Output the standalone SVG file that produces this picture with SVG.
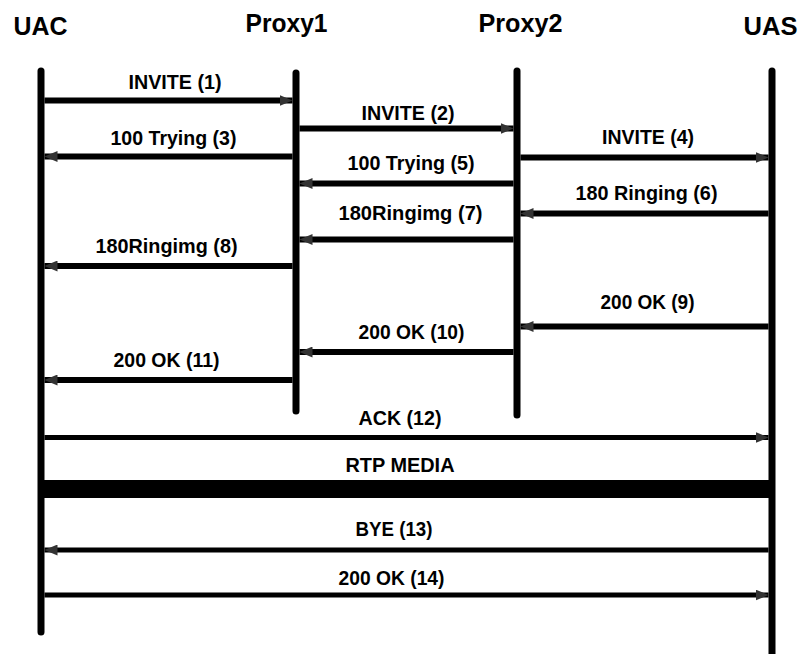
<svg xmlns="http://www.w3.org/2000/svg" width="804" height="654" viewBox="0 0 804 654">
  <style>
    .hdr { font-family: "Liberation Sans", Arial, sans-serif; font-weight: bold; font-size: 26px; fill: #000; text-anchor: middle; }
    .lbl { font-family: "Liberation Sans", Arial, sans-serif; font-weight: bold; font-size: 21px; fill: #000; text-anchor: middle; }
    .life { stroke: #000; stroke-width: 7; stroke-linecap: round; fill: none; }
    .msg { stroke: #000; stroke-width: 6; fill: none; }
    .msg2 { stroke: #000; stroke-width: 5; fill: none; }
  </style>
  <defs>
    <marker id="ah" markerUnits="userSpaceOnUse" markerWidth="13" markerHeight="11" viewBox="0 0 13 11" refX="13" refY="5.5" orient="auto">
      <path d="M0,0 L13,5.5 L0,11 z" fill="#333"/>
    </marker>
  </defs>
  <rect x="0" y="0" width="804" height="654" fill="#fff"/>

  <g id="uac">
    <text class="hdr" x="40.5" y="35" textLength="54" lengthAdjust="spacingAndGlyphs">UAC</text>
    <line class="life" x1="41" y1="71" x2="41" y2="632"/>
  </g>
  <g id="proxy1">
    <text class="hdr" x="286.5" y="32" textLength="82" lengthAdjust="spacingAndGlyphs">Proxy1</text>
    <line class="life" x1="296" y1="73" x2="296" y2="411"/>
  </g>
  <g id="proxy2">
    <text class="hdr" x="520.5" y="32" textLength="84" lengthAdjust="spacingAndGlyphs">Proxy2</text>
    <line class="life" x1="517" y1="71" x2="517" y2="415"/>
  </g>
  <g id="uas">
    <text class="hdr" x="770.5" y="35" textLength="54" lengthAdjust="spacingAndGlyphs">UAS</text>
    <line class="life" x1="772" y1="71" x2="772" y2="660"/>
  </g>

  <g id="connectors">
    <line class="msg" x1="44.5" y1="100.5" x2="292.5" y2="100.5" marker-end="url(#ah)"/>
    <text class="lbl" x="175" y="89" textLength="93" lengthAdjust="spacingAndGlyphs">INVITE (1)</text>

    <line class="msg" x1="299.5" y1="128.5" x2="513.5" y2="128.5" marker-end="url(#ah)"/>
    <text class="lbl" x="408" y="119.5" textLength="93" lengthAdjust="spacingAndGlyphs">INVITE (2)</text>

    <line class="msg" x1="292.5" y1="156.5" x2="44.5" y2="156.5" marker-end="url(#ah)"/>
    <text class="lbl" x="173.5" y="144.5" textLength="126" lengthAdjust="spacingAndGlyphs">100 Trying (3)</text>

    <line class="msg" x1="520.5" y1="157.5" x2="768.5" y2="157.5" marker-end="url(#ah)"/>
    <text class="lbl" x="648" y="143.5" textLength="92" lengthAdjust="spacingAndGlyphs">INVITE (4)</text>

    <line class="msg" x1="513.5" y1="183.5" x2="299.5" y2="183.5" marker-end="url(#ah)"/>
    <text class="lbl" x="411" y="169.5" textLength="127" lengthAdjust="spacingAndGlyphs">100 Trying (5)</text>

    <line class="msg" x1="768.5" y1="213.5" x2="520.5" y2="213.5" marker-end="url(#ah)"/>
    <text class="lbl" x="646.5" y="200" textLength="142" lengthAdjust="spacingAndGlyphs">180 Ringing (6)</text>

    <line class="msg" x1="513.5" y1="239.5" x2="299.5" y2="239.5" marker-end="url(#ah)"/>
    <text class="lbl" x="410.5" y="220" textLength="144" lengthAdjust="spacingAndGlyphs">180Ringimg (7)</text>

    <line class="msg" x1="292.5" y1="266" x2="44.5" y2="266" marker-end="url(#ah)"/>
    <text class="lbl" x="166.5" y="253" textLength="142" lengthAdjust="spacingAndGlyphs">180Ringimg (8)</text>

    <line class="msg" x1="768.5" y1="326.5" x2="520.5" y2="326.5" marker-end="url(#ah)"/>
    <text class="lbl" x="647.5" y="309" textLength="94" lengthAdjust="spacingAndGlyphs">200 OK (9)</text>

    <line class="msg" x1="513.5" y1="352" x2="299.5" y2="352" marker-end="url(#ah)"/>
    <text class="lbl" x="411.5" y="339" textLength="106" lengthAdjust="spacingAndGlyphs">200 OK (10)</text>

    <line class="msg" x1="292.5" y1="380" x2="44.5" y2="380" marker-end="url(#ah)"/>
    <text class="lbl" x="166.5" y="366.5" textLength="106" lengthAdjust="spacingAndGlyphs">200 OK (11)</text>

    <line class="msg2" x1="44.5" y1="437.5" x2="768.5" y2="437.5" marker-end="url(#ah)"/>
    <text class="lbl" x="400" y="425" textLength="83" lengthAdjust="spacingAndGlyphs">ACK (12)</text>

    <text class="lbl" x="400" y="471.5" textLength="109" lengthAdjust="spacingAndGlyphs">RTP MEDIA</text>
    <rect x="41" y="480" width="731" height="18" fill="#000"/>

    <line class="msg2" x1="768.5" y1="550" x2="44.5" y2="550" marker-end="url(#ah)"/>
    <text class="lbl" x="394" y="536" textLength="77" lengthAdjust="spacingAndGlyphs">BYE (13)</text>

    <line class="msg2" x1="44.5" y1="595" x2="768.5" y2="595" marker-end="url(#ah)"/>
    <text class="lbl" x="391.5" y="585" textLength="106" lengthAdjust="spacingAndGlyphs">200 OK (14)</text>
  </g>
</svg>
